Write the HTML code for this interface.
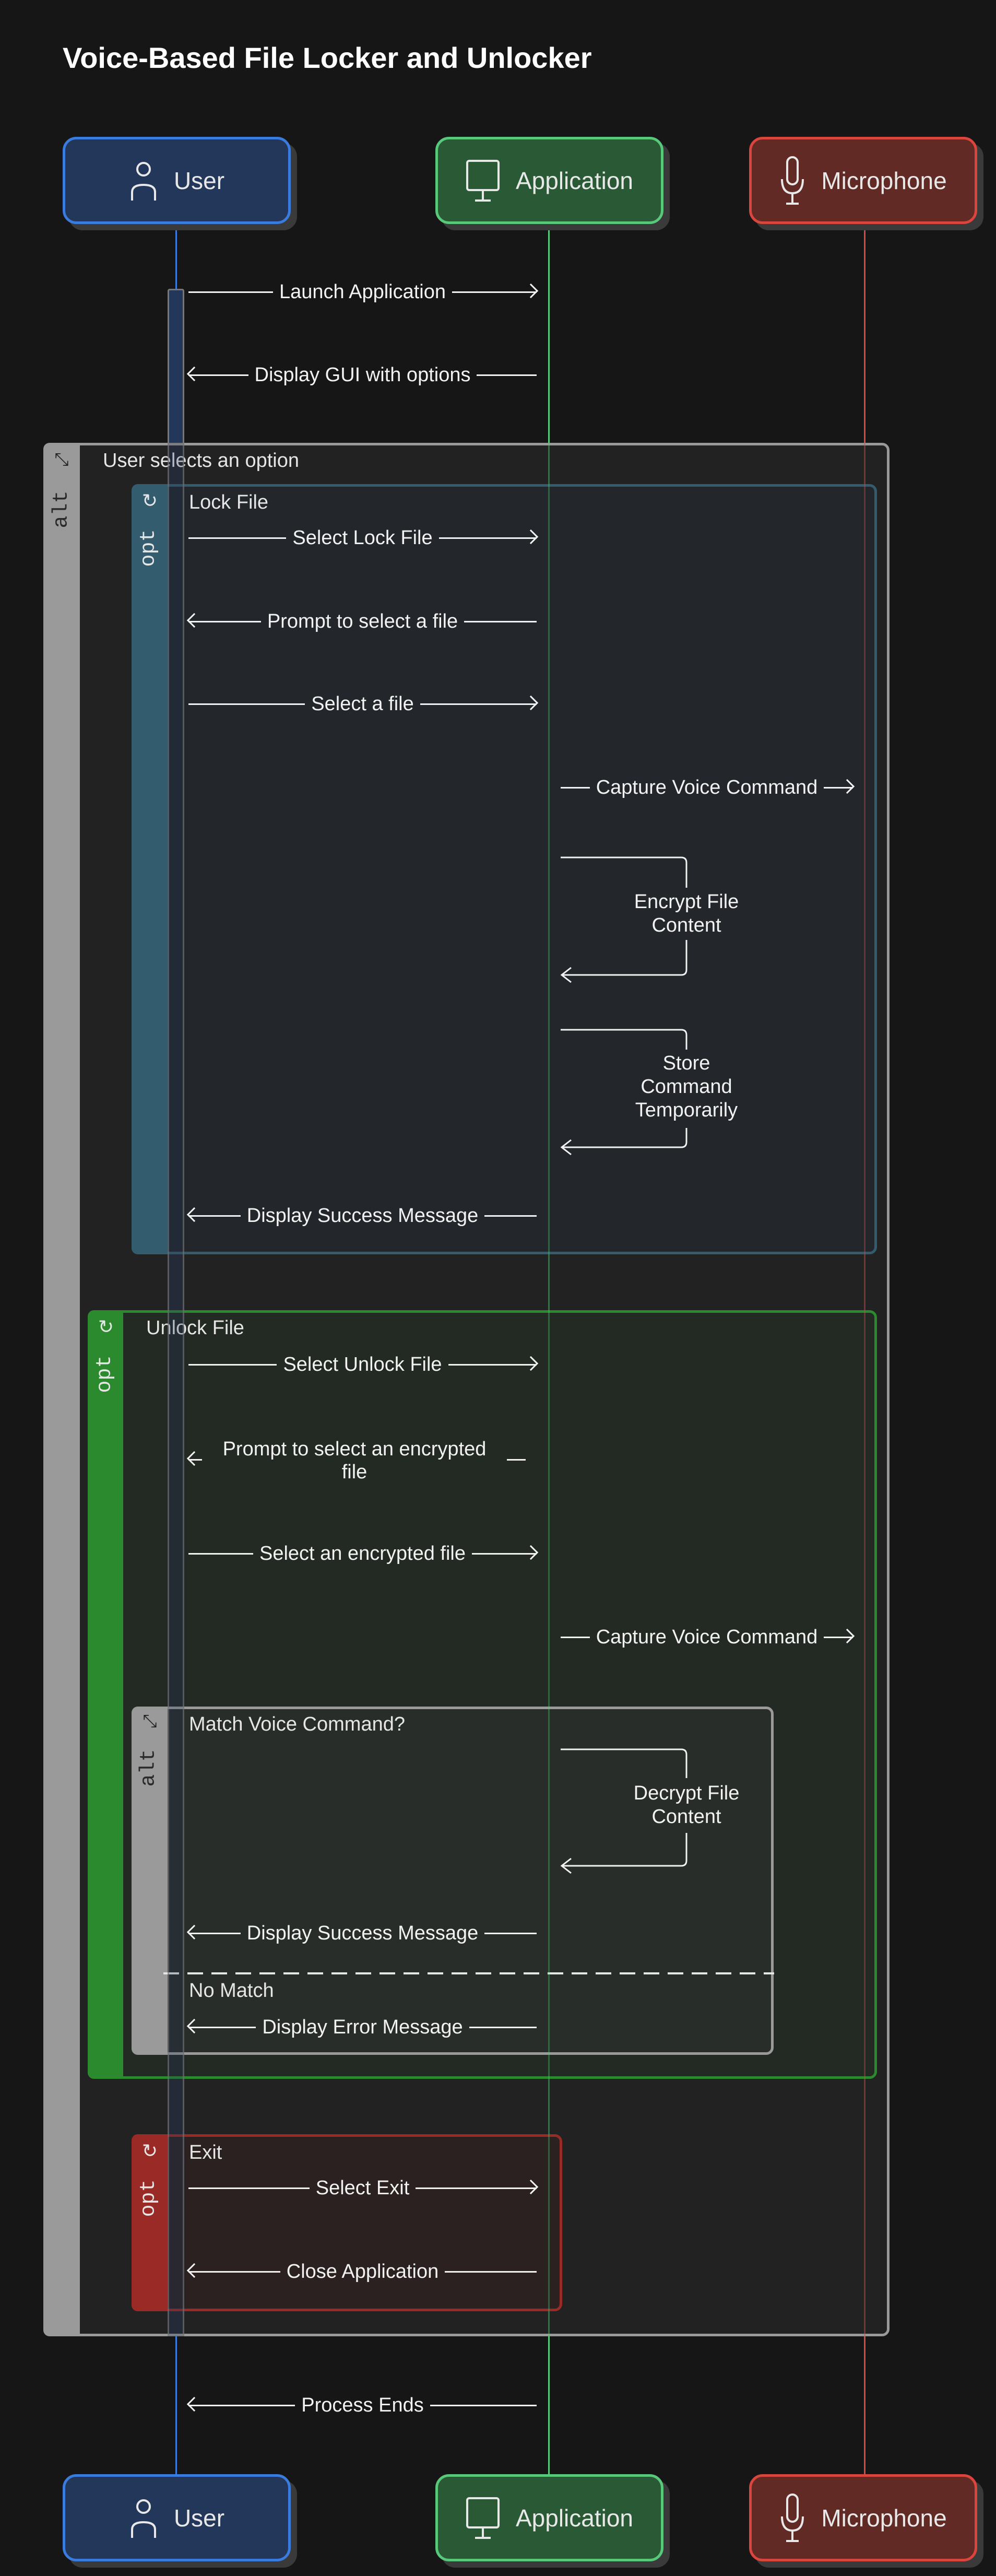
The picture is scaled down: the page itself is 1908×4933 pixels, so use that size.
<!DOCTYPE html>
<html><head><meta charset="utf-8"><style>
html,body{margin:0;padding:0;background:#161616;}
body{width:1908px;height:4933px;position:relative;overflow:hidden;font-family:"Liberation Sans",sans-serif;color:#f2f2f2;}
.abs{position:absolute;box-sizing:border-box;}
.actor{position:absolute;box-sizing:border-box;width:437px;height:167px;border-radius:26px;border:5px solid;display:flex;align-items:center;justify-content:center;font-size:46px;color:#e8e8e8;box-shadow:12px 12px 0 #3a3a3a;}
.actor svg{margin-right:30px;}
.life{position:absolute;width:3px;top:428px;height:4310px;}
.frame{position:absolute;box-sizing:border-box;border:5px solid;border-radius:14px;}
.stripe{position:absolute;left:-5px;top:-5px;bottom:-5px;border-radius:12px 0 0 12px;}
.stlabel{position:absolute;font-family:"Liberation Mono",monospace;font-size:40px;transform:rotate(-90deg);transform-origin:center;white-space:nowrap;}
.flabel{position:absolute;font-size:38px;color:#e6e6e6;white-space:nowrap;}
.msg{position:absolute;display:flex;align-items:center;height:100px;font-size:38px;}
.msg .ln{flex:1;height:3px;background:#f2f2f2;position:relative;min-width:18px;}
.msg span{margin:0 12px;text-align:center;line-height:44px;white-space:nowrap;}
.msg span.wrap{white-space:normal;max-width:560px;}
.msg.r .ln:last-child::after{content:"";position:absolute;right:1px;top:-11px;width:20px;height:20px;border-top:3px solid #f2f2f2;border-right:3px solid #f2f2f2;transform:rotate(45deg);box-sizing:border-box;}
.msg.l .ln:first-child::before{content:"";position:absolute;left:1px;top:-11px;width:20px;height:20px;border-bottom:3px solid #f2f2f2;border-left:3px solid #f2f2f2;transform:rotate(45deg);box-sizing:border-box;}
.self{position:absolute;font-size:38px;text-align:center;line-height:45px;width:300px;}
</style></head><body>

<div class="abs" style="left:120px;top:78px;font-size:56px;font-weight:bold;color:#fff;white-space:nowrap;">Voice-Based File Locker and Unlocker</div>

<!-- lifelines -->
<div class="life" style="left:336px;background:#3a7be0;"></div>
<div class="life" style="left:1050px;background:#58c97a;"></div>
<div class="life" style="left:1655px;background:#d9463e;"></div>

<!-- activation bar -->
<div class="abs" style="left:321px;top:553px;width:32px;height:3921px;background:#22375a;border:3px solid #777;border-radius:4px;"></div>

<!-- outer alt -->
<div class="frame" style="left:83px;top:848px;width:1621px;height:3626px;border-color:#9a9a9a;background:rgba(36,36,36,0.88);">
  <div class="stripe" style="width:70px;background:#9a9a9a;"></div>
  <div class="abs" style="left:0px;top:8px;width:60px;text-align:center;font-size:34px;color:#222;">⤡</div>
  <div class="stlabel" style="left:-10px;top:100px;width:80px;text-align:center;color:#2a2a2a;">alt</div>
  <div class="flabel" style="left:109px;top:8px;">User selects an option</div>
</div>

<!-- lock opt -->
<div class="frame" style="left:252px;top:927px;width:1428px;height:1475px;border-color:#335c6e;background:rgba(35,39,43,0.9);">
  <div class="stripe" style="width:69px;background:#335c6e;"></div>
  <div class="abs" style="left:0;top:6px;width:60px;text-align:center;font-size:36px;color:#e6e6e6;">↻</div>
  <div class="stlabel" style="left:-12px;top:95px;width:80px;text-align:center;color:#e6e6e6;">opt</div>
  <div class="flabel" style="left:105px;top:9px;">Lock File</div>
</div>

<!-- unlock opt -->
<div class="frame" style="left:168px;top:2509px;width:1512px;height:1472px;border-color:#2b8a2e;background:rgba(35,42,36,0.9);">
  <div class="stripe" style="width:68px;background:#2b8a2e;"></div>
  <div class="abs" style="left:0;top:6px;width:60px;text-align:center;font-size:36px;color:#e6e6e6;">↻</div>
  <div class="stlabel" style="left:-12px;top:95px;width:80px;text-align:center;color:#e6e6e6;">opt</div>
  <div class="flabel" style="left:107px;top:8px;">Unlock File</div>
</div>

<!-- inner alt -->
<div class="frame" style="left:252px;top:3268px;width:1230px;height:667px;border-color:#9a9a9a;background:rgba(42,45,42,0.9);">
  <div class="stripe" style="width:69px;background:#9a9a9a;"></div>
  <div class="abs" style="left:0;top:4px;width:60px;text-align:center;font-size:34px;color:#222;">⤡</div>
  <div class="stlabel" style="left:-12px;top:90px;width:80px;text-align:center;color:#2a2a2a;">alt</div>
  <div class="flabel" style="left:105px;top:8px;">Match Voice Command?</div>
  <svg class="abs" style="left:56px;top:503px;" width="1170" height="6"><line x1="0" y1="3" x2="1170" y2="3" stroke="#e6e6e6" stroke-width="4" stroke-dasharray="30 16"/></svg>
  <div class="flabel" style="left:105px;top:518px;">No Match</div>
</div>

<!-- exit opt -->
<div class="frame" style="left:252px;top:4087px;width:825px;height:339px;border-color:#992a25;background:rgba(44,34,34,0.92);">
  <div class="stripe" style="width:69px;background:#992a25;"></div>
  <div class="abs" style="left:0;top:6px;width:60px;text-align:center;font-size:36px;color:#e6e6e6;">↻</div>
  <div class="stlabel" style="left:-12px;top:95px;width:80px;text-align:center;color:#e6e6e6;">opt</div>
  <div class="flabel" style="left:105px;top:9px;">Exit</div>
</div>

<!-- faint lifelines and bar over frames -->
<div class="abs" style="left:1050px;top:848px;width:3px;height:3626px;background:#58c97a;opacity:0.35;"></div>
<div class="abs" style="left:1655px;top:848px;width:3px;height:3626px;background:#d9463e;opacity:0.4;"></div>
<div class="abs" style="left:321px;top:848px;width:32px;height:3626px;background:rgba(34,55,90,0.25);border:3px solid rgba(120,120,120,0.6);"></div>

<!-- messages -->
<div class="msg r" style="left:361px;width:667px;top:509px;"><div class="ln"></div><span>Launch Application</span><div class="ln"></div></div>
<div class="msg l" style="left:361px;width:667px;top:668px;"><div class="ln"></div><span>Display GUI with options</span><div class="ln"></div></div>
<div class="msg r" style="left:361px;width:667px;top:980px;"><div class="ln"></div><span>Select Lock File</span><div class="ln"></div></div>
<div class="msg l" style="left:361px;width:667px;top:1140px;"><div class="ln"></div><span>Prompt to select a file</span><div class="ln"></div></div>
<div class="msg r" style="left:361px;width:667px;top:1298px;"><div class="ln"></div><span>Select a file</span><div class="ln"></div></div>
<div class="msg r" style="left:1074px;width:560px;top:1458px;"><div class="ln"></div><span>Capture Voice Command</span><div class="ln"></div></div>
<div class="msg l" style="left:361px;width:667px;top:2278px;"><div class="ln"></div><span>Display Success Message</span><div class="ln"></div></div>
<div class="msg r" style="left:361px;width:667px;top:2563px;"><div class="ln"></div><span>Select Unlock File</span><div class="ln"></div></div>
<div class="msg l" style="left:361px;width:667px;top:2745px;"><div class="ln" style="flex:0 0 26px;align-self:center;"></div><span class="wrap" style="align-self:flex-start;margin-top:8px;">Prompt to select an encrypted file</span><div class="ln" style="flex:0 0 36px;"></div></div>
<div class="msg r" style="left:361px;width:667px;top:2925px;"><div class="ln"></div><span>Select an encrypted file</span><div class="ln"></div></div>
<div class="msg r" style="left:1074px;width:560px;top:3085px;"><div class="ln"></div><span>Capture Voice Command</span><div class="ln"></div></div>
<div class="msg l" style="left:361px;width:667px;top:3652px;"><div class="ln"></div><span>Display Success Message</span><div class="ln"></div></div>
<div class="msg l" style="left:361px;width:667px;top:3832px;"><div class="ln"></div><span>Display Error Message</span><div class="ln"></div></div>
<div class="msg r" style="left:361px;width:667px;top:4140px;"><div class="ln"></div><span>Select Exit</span><div class="ln"></div></div>
<div class="msg l" style="left:361px;width:667px;top:4300px;"><div class="ln"></div><span>Close Application</span><div class="ln"></div></div>
<div class="msg l" style="left:361px;width:667px;top:4556px;"><div class="ln"></div><span>Process Ends</span><div class="ln"></div></div>

<!-- self messages -->
<svg class="abs" style="left:0;top:0;" width="1908" height="4933" fill="none" stroke="#f2f2f2" stroke-width="3">
  <path d="M1074 1642 H1305 Q1315 1642 1315 1652 V1700 M1315 1800 V1857 Q1315 1867 1305 1867 H1076 M1094 1853 L1076 1867 L1094 1881"/>
  <path d="M1074 1972 H1305 Q1315 1972 1315 1982 V2010 M1315 2160 V2187 Q1315 2197 1305 2197 H1076 M1094 2183 L1076 2197 L1094 2211"/>
  <path d="M1074 3350 H1305 Q1315 3350 1315 3360 V3405 M1315 3510 V3563 Q1315 3573 1305 3573 H1076 M1094 3559 L1076 3573 L1094 3587"/>
</svg>
<div class="self" style="left:1165px;top:1705px;">Encrypt File<br>Content</div>
<div class="self" style="left:1165px;top:2014px;">Store<br>Command<br>Temporarily</div>
<div class="self" style="left:1165px;top:3412px;">Decrypt File<br>Content</div>

<!-- actors -->
<div class="actor" style="left:120px;top:262px;background:#22375a;border-color:#3a7be0;">
  <svg width="56" height="80" viewBox="0 0 56 80" fill="none" stroke="#e8e8e8" stroke-width="4"><circle cx="28" cy="18" r="12"/><path d="M6 78 V62 Q6 48 28 48 Q50 48 50 62 V78"/></svg>User</div>
<div class="actor" style="left:834px;top:262px;background:#2a5a35;border-color:#58c97a;">
  <svg width="66" height="84" viewBox="0 0 66 84" fill="none" stroke="#e8e8e8" stroke-width="4"><rect x="3" y="4" width="60" height="56" rx="4"/><path d="M33 60 V80 M18 80 H48"/></svg>Application</div>
<div class="actor" style="left:1435px;top:262px;background:#612a25;border-color:#d9463e;">
  <svg width="50" height="96" viewBox="0 0 50 96" fill="none" stroke="#e8e8e8" stroke-width="4"><rect x="15" y="3" width="20" height="52" rx="10"/><path d="M5 45 Q5 72 25 72 Q45 72 45 45 M25 72 V92 M13 92 H37"/></svg>Microphone</div>

<div class="actor" style="left:120px;top:4738px;background:#22375a;border-color:#3a7be0;">
  <svg width="56" height="80" viewBox="0 0 56 80" fill="none" stroke="#e8e8e8" stroke-width="4"><circle cx="28" cy="18" r="12"/><path d="M6 78 V62 Q6 48 28 48 Q50 48 50 62 V78"/></svg>User</div>
<div class="actor" style="left:834px;top:4738px;background:#2a5a35;border-color:#58c97a;">
  <svg width="66" height="84" viewBox="0 0 66 84" fill="none" stroke="#e8e8e8" stroke-width="4"><rect x="3" y="4" width="60" height="56" rx="4"/><path d="M33 60 V80 M18 80 H48"/></svg>Application</div>
<div class="actor" style="left:1435px;top:4738px;background:#612a25;border-color:#d9463e;">
  <svg width="50" height="96" viewBox="0 0 50 96" fill="none" stroke="#e8e8e8" stroke-width="4"><rect x="15" y="3" width="20" height="52" rx="10"/><path d="M5 45 Q5 72 25 72 Q45 72 45 45 M25 72 V92 M13 92 H37"/></svg>Microphone</div>

</body></html>
